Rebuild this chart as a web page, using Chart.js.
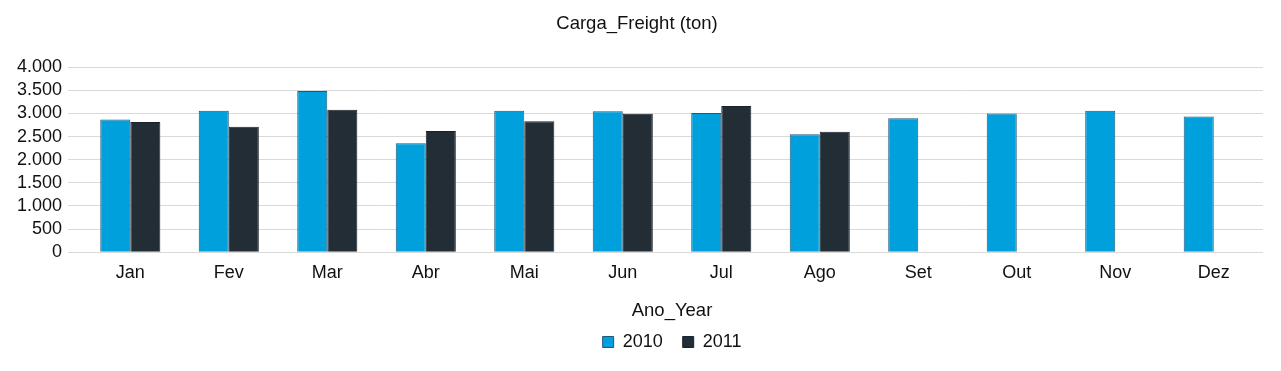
<!DOCTYPE html>
<html>
<head>
<meta charset="utf-8">
<script src="https://cdn.jsdelivr.net/npm/chart.js@4/dist/chart.umd.min.js"></script>
<style>
    html, body { margin: 0; padding: 0; background: #fff; }
    #wrap { width: 1281px; height: 371px; }
</style>
</head>
<body>
<div id="wrap"><canvas id="freightChart" width="1281" height="371"></canvas></div>
<script>
// dados
const meses = ['Jan', 'Fev', 'Mar', 'Abr', 'Mai', 'Jun', 'Jul', 'Ago', 'Set', 'Out', 'Nov', 'Dez'];
const carga2010 = [2870, 3060, 3485, 2355, 3060, 3045, 3010, 2550, 2895, 3000, 3060, 2935];
const carga2011 = [2815, 2715, 3080, 2620, 2830, 2995, 3160, 2605, null, null, null, null];
const ticksY = [0, 500, 1000, 1500, 2000, 2500, 3000, 3500, 4000];

function formatMilhar(v) {
    return v.toString().replace(/\B(?=(\d{3})+(?!\d))/g, '.');
}

const ctx = document.getElementById('freightChart').getContext('2d');
Chart.defaults.font.family = '"Liberation Sans", Arial, sans-serif';
Chart.defaults.color = '#111';

new Chart(ctx, {
    type: 'bar',
    data: {
        labels: meses,
        datasets: [
            {
                label: '2010',
                data: carga2010,
                backgroundColor: '#00a0dc',
                borderColor: '#1d5a78',
                borderWidth: 1,
                categoryPercentage: 0.61,
                barPercentage: 1
            },
            {
                label: '2011',
                data: carga2011,
                backgroundColor: '#222d36',
                borderColor: '#1a2229',
                borderWidth: 1,
                categoryPercentage: 0.61,
                barPercentage: 1
            }
        ]
    },
    options: {
        responsive: false,
        animation: false,
        layout: { padding: { left: 11, right: 18, top: 0, bottom: 10 } },
        plugins: {
            title: {
                display: true,
                text: 'Carga_Freight (ton)',
                font: { size: 18.5, weight: 'normal' },
                padding: { top: 13, bottom: 32 }
            },
            legend: {
                position: 'bottom',
                fullSize: false,
                title: {
                    display: true,
                    text: 'Ano_Year',
                    font: { size: 18.5 },
                    padding: { top: 8, bottom: -11 }
                },
                labels: {
                    boxWidth: 11,
                    boxHeight: 11,
                    font: { size: 18 },
                    padding: 20
                }
            },
            tooltip: { enabled: false }
        },
        scales: {
            x: {
                grid: { display: false, drawTicks: false },
                border: { display: false },
                ticks: { font: { size: 18 }, padding: 10 }
            },
            y: {
                min: 0,
                max: 4000,
                afterBuildTicks: (axis) => { axis.ticks = ticksY.map(v => ({ value: v })); },
                grid: { color: '#d9d9d9', tickLength: 13 },
                border: { display: false },
                ticks: {
                    font: { size: 18 },
                    padding: 6,
                    autoSkip: false,
                    callback: (v) => formatMilhar(v)
                }
            }
        }
    }
});
</script>
</body>
</html>
